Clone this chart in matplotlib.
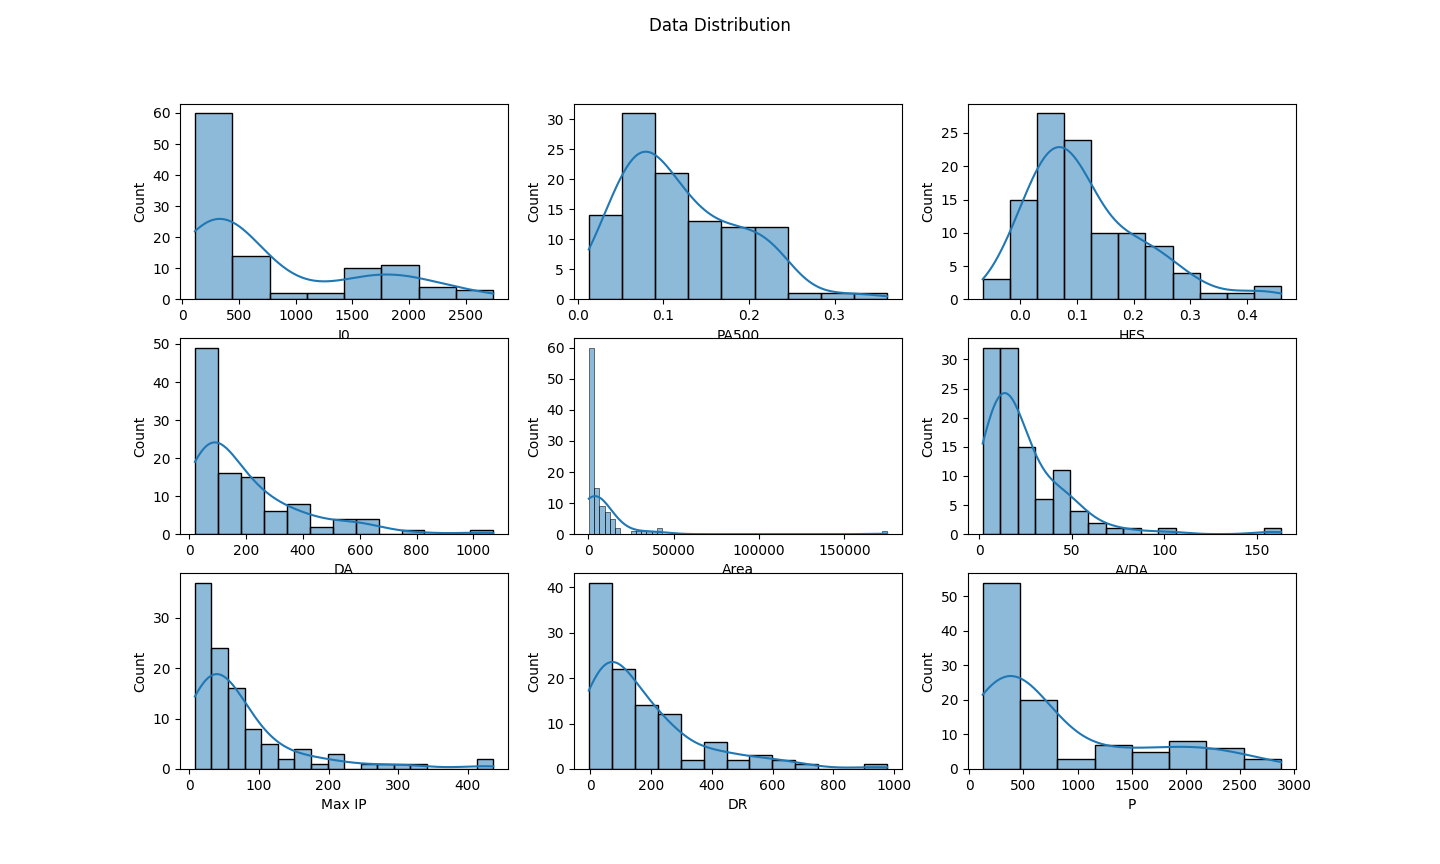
import numpy as np
import matplotlib
matplotlib.use("Agg")
import matplotlib.pyplot as plt
import seaborn as sns

# Variable names (x labels)
names = ["I0", "PA500", "HFS", "DA", "Area", "A/DA", "Max IP", "DR", "P"]

# Histogram bin ranges (data min / max) and bin counts
I0_range = (110, 2745)
I0_counts = [60, 14, 2, 2, 10, 11, 4, 3]

PA500_range = (0.0129, 0.3615)
PA500_counts = [14, 31, 21, 13, 12, 12, 1, 1, 1]

HFS_range = (-0.0657, 0.4598)
HFS_counts = [3, 15, 28, 24, 10, 10, 8, 4, 1, 1, 2]

DA_range = (20, 1070)
DA_counts = [49, 16, 15, 6, 8, 2, 4, 4, 0, 1, 0, 0, 1]

Area_range = (300, 175100)
Area_counts = [60, 15, 9, 7, 5, 2, 0, 0, 1, 1, 1, 1, 1, 2] + [0] * 42 + [1]

ADA_range = (1.8, 163.2)
ADA_counts = [32, 32, 15, 6, 11, 4, 2, 1, 1, 0, 1, 0, 0, 0, 0, 0, 1]

MaxIP_range = (8.1, 436.7)
MaxIP_counts = [37, 24, 16, 8, 5, 2, 4, 1, 3, 0, 1, 1, 1, 1, 0, 0, 0, 2]

DR_range = (-5.5, 978)
DR_counts = [41, 22, 14, 12, 2, 6, 2, 3, 2, 1, 0, 0, 1]

P_range = (123, 2880)
P_counts = [54, 20, 3, 7, 5, 8, 6, 3]

ranges = [I0_range, PA500_range, HFS_range, DA_range, Area_range,
          ADA_range, MaxIP_range, DR_range, P_range]
counts = [I0_counts, PA500_counts, HFS_counts, DA_counts, Area_counts,
          ADA_counts, MaxIP_counts, DR_counts, P_counts]

fig, axes = plt.subplots(3, 3, figsize=(14.4, 8.64), dpi=100)
fig.suptitle("Data Distribution")

for ax, name, rng, cnt in zip(axes.flat, names, ranges, counts):
    cnt = np.asarray(cnt, dtype=float)
    nb = len(cnt)
    n_obs = cnt.sum()
    width = (rng[1] - rng[0]) / nb
    centers = rng[0] + width * (np.arange(nb) + 0.5)
    # bin centres weighted by their counts, plus zero-weight points at the data extremes
    x = np.concatenate([[rng[0]], centers, [rng[1]]])
    w = np.concatenate([[0.0], cnt, [0.0]])
    sns.histplot(x=x, weights=w, bins=nb, binrange=rng, kde=True, ax=ax,
                 kde_kws=dict(bw_method=n_obs ** (-0.2)))
    ax.set_xlabel(name)
    ax.set_ylabel("Count")

fig.savefig("out.png", dpi=100)
